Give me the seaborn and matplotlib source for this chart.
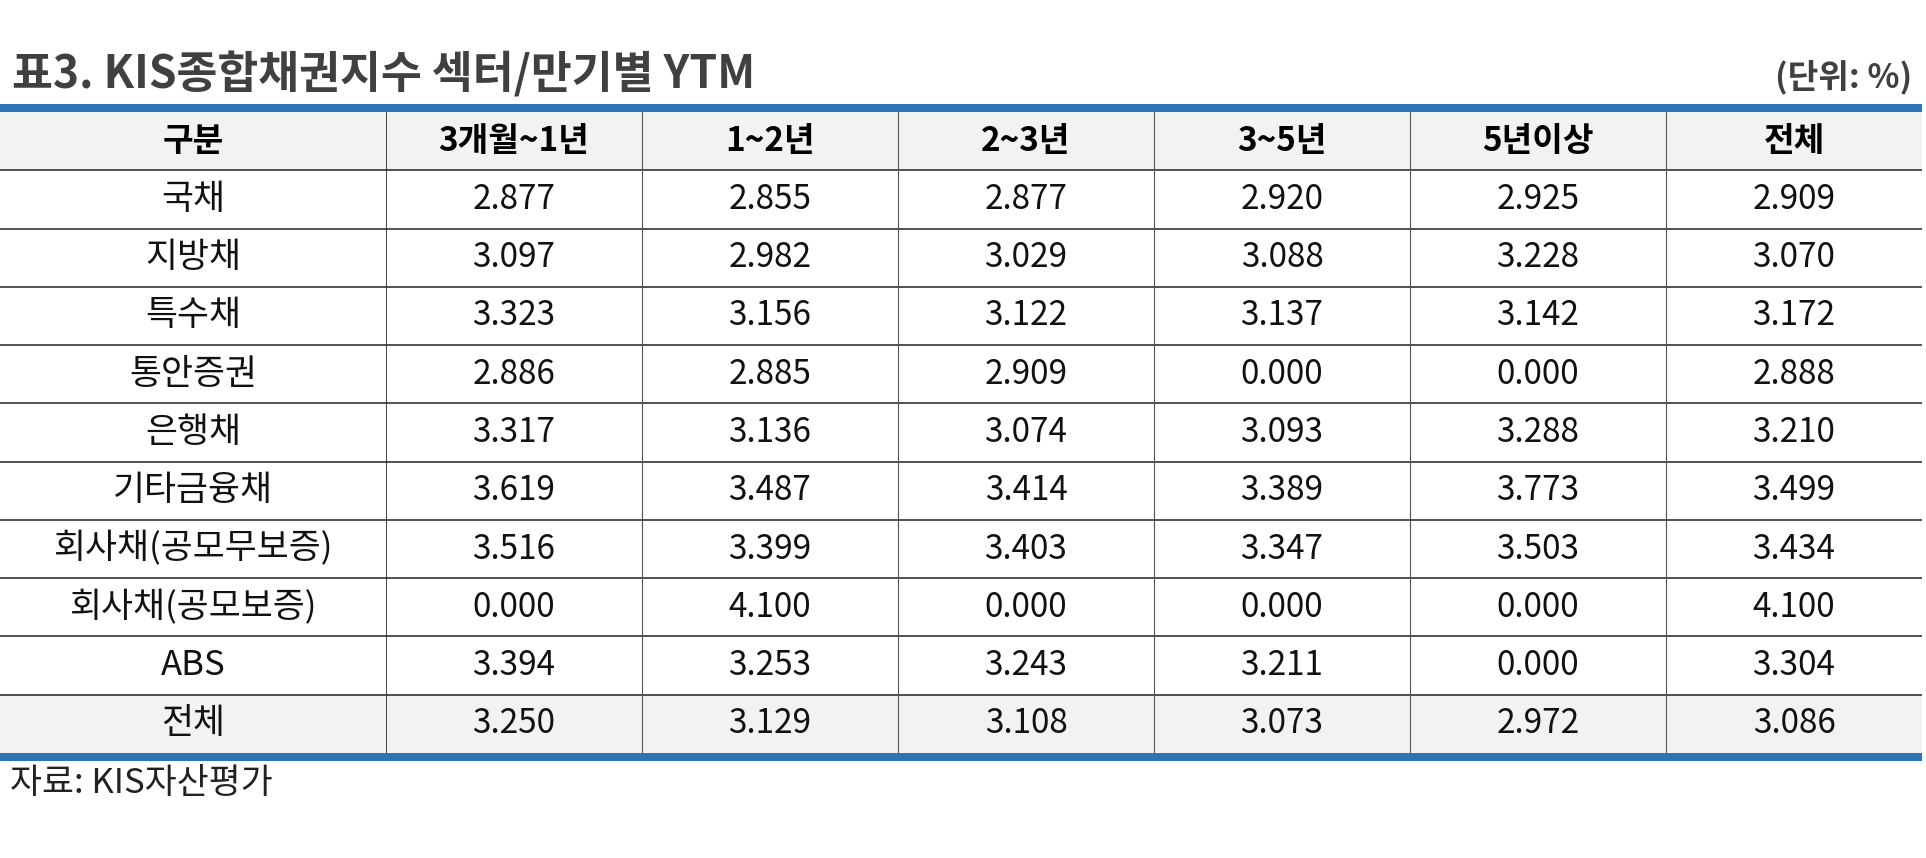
import numpy as np
import matplotlib.pyplot as plt
from matplotlib.colors import ListedColormap
from matplotlib.patches import Rectangle
import seaborn as sns

# 표 데이터
title = '표3. KIS종합채권지수 섹터/만기별 YTM'
unit_text = '(단위: %)'
source_text = '자료: KIS자산평가'
corner_label = '구분'
periods = ['3개월~1년', '1~2년', '2~3년', '3~5년', '5년이상', '전체']
sectors = ['국채', '지방채', '특수채', '통안증권', '은행채', '기타금융채',
           '회사채(공모무보증)', '회사채(공모보증)', 'ABS', '전체']
ytm_values = [
    [2.877, 2.855, 2.877, 2.920, 2.925, 2.909],
    [3.097, 2.982, 3.029, 3.088, 3.228, 3.070],
    [3.323, 3.156, 3.122, 3.137, 3.142, 3.172],
    [2.886, 2.885, 2.909, 0.000, 0.000, 2.888],
    [3.317, 3.136, 3.074, 3.093, 3.288, 3.210],
    [3.619, 3.487, 3.414, 3.389, 3.773, 3.499],
    [3.516, 3.399, 3.403, 3.347, 3.503, 3.434],
    [0.000, 4.100, 0.000, 0.000, 0.000, 4.100],
    [3.394, 3.253, 3.243, 3.211, 0.000, 3.304],
    [3.250, 3.129, 3.108, 3.073, 2.972, 3.086],
]

sns.set_style('white')
plt.rcParams['font.family'] = ['Noto Sans CJK KR', 'DejaVu Sans']

W, H = 1926, 858
fig = plt.figure(figsize=(W / 100, H / 100), dpi=100)


def fx(px):
    return px / W


def fy(py):
    return 1 - py / H


tbl_top, tbl_bot = 112, 753
split_x, right_x = 386, 1922

# 헤더/합계 행 음영 (1 = 회색)
n_rows = len(sectors) + 1
shade = np.zeros((n_rows, 1))
shade[0] = 1
shade[-1] = 1
cmap = ListedColormap(['white', '#f2f2f2'])

ax_lab = fig.add_axes([0, fy(tbl_bot), fx(split_x), (tbl_bot - tbl_top) / H])
ax_val = fig.add_axes([fx(split_x), fy(tbl_bot), fx(right_x - split_x), (tbl_bot - tbl_top) / H])

lab_annot = np.array([[corner_label]] + [[s] for s in sectors], dtype=object)
val_annot = np.array([periods] + [[f'{v:.3f}' for v in row] for row in ytm_values], dtype=object)
val_shade = np.repeat(shade, len(periods), axis=1)

kw = dict(fmt='', cmap=cmap, vmin=0, vmax=1, cbar=False, linewidths=0,
          xticklabels=False, yticklabels=False)
sns.heatmap(shade, annot=lab_annot, ax=ax_lab,
            annot_kws={'color': '#111111', 'fontsize': 25}, **kw)
sns.heatmap(val_shade, annot=val_annot, ax=ax_val,
            annot_kws={'color': '#111111', 'fontsize': 24}, **kw)

# 헤더 굵게
for ax, ncol in [(ax_lab, 1), (ax_val, len(periods))]:
    for i, t in enumerate(ax.texts):
        if i < ncol:
            t.set_fontweight('bold')
            t.set_fontsize(24)
            t.set_color('black')

# 격자선
for ax in (ax_lab, ax_val):
    for r in range(1, n_rows):
        ax.axhline(r, color='#333333', lw=1.2)
    ax.set_xlabel('')
    ax.set_ylabel('')
    for s in ax.spines.values():
        s.set_visible(False)
for c in range(1, len(periods)):
    ax_val.axvline(c, color='#555555', lw=0.8)
ax_val.axvline(0, color='#222222', lw=1.2)

# 상단/하단 파란 띠
for y0 in (104, 753):
    fig.add_artist(Rectangle((0, fy(y0 + 8)), fx(right_x), 8 / H,
                             transform=fig.transFigure, color='#2e75b6', lw=0))

fig.text(fx(12), fy(75), title, fontsize=32, fontweight='bold', color='#404040',
         ha='left', va='center')
fig.text(fx(1912), fy(77), unit_text, fontsize=24, fontweight='bold', color='#404040',
         ha='right', va='center')
fig.text(fx(10), fy(783), source_text, fontsize=25, color='#222222',
         ha='left', va='center')

fig.savefig('out.png', dpi=100)
